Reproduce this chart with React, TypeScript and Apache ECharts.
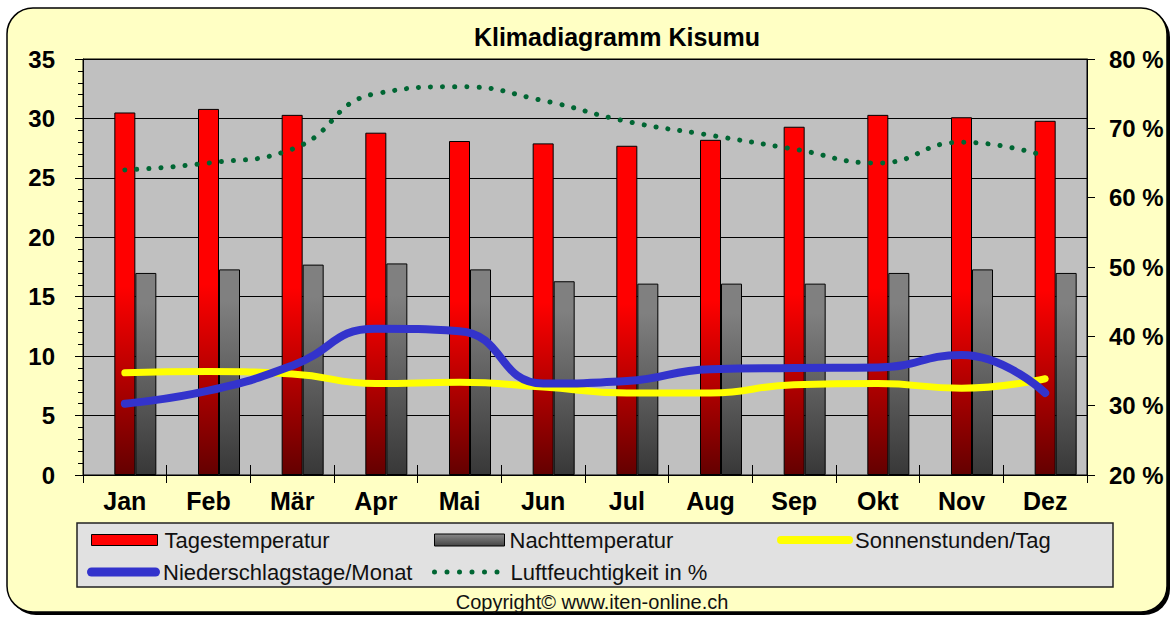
import React, { useEffect, useRef } from "react";
import * as echarts from "echarts";

const months = ["Jan", "Feb", "Mär", "Apr", "Mai", "Jun", "Jul", "Aug", "Sep", "Okt", "Nov", "Dez"];
const tagestemperatur = [30.5, 30.8, 30.3, 28.8, 28.1, 27.9, 27.7, 28.2, 29.3, 30.3, 30.1, 29.8];
const nachttemperatur = [17.0, 17.3, 17.7, 17.8, 17.3, 16.3, 16.1, 16.1, 16.1, 17.0, 17.3, 17.0];
const sonnenstunden = [8.6, 8.7, 8.5, 7.7, 7.8, 7.4, 6.9, 6.9, 7.6, 7.7, 7.3, 8.1];
const niederschlagstage = [6.0, 7.1, 9.2, 12.3, 12.1, 7.7, 7.9, 8.9, 9.0, 9.05, 10.1, 6.9];
const luftfeuchtigkeit = [64, 65, 67, 75, 76, 74, 71, 69, 67, 65, 68, 66];
const leftTicks = { min: 0, max: 35, interval: 5 };
const rightTicks = { min: 20, max: 80, interval: 10 };

const FONT = "'Liberation Sans', Arial, Helvetica, sans-serif";

function capsule(w: number, h: number) {
  const r = h / 2;
  return `path://M${r},0 L${w - r},0 A${r},${r} 0 0 1 ${w - r},${h} L${r},${h} A${r},${r} 0 0 1 ${r},0 Z`;
}
function dots(n: number, r: number, step: number) {
  let d = "path://";
  for (let i = 0; i < n; i++) {
    const cx = r + i * step;
    d += `M${cx - r},${r} A${r},${r} 0 1 0 ${cx + r},${r} A${r},${r} 0 1 0 ${cx - r},${r} Z `;
  }
  return d;
}

export default function App() {
  const ref = useRef<HTMLDivElement>(null);
  useEffect(() => {
    if (!ref.current) return;
    const chart = echarts.init(ref.current, undefined, { renderer: "svg" });
    const redGrad = new echarts.graphic.LinearGradient(0, 0, 0, 1, [
      { offset: 0, color: "#FF0000" },
      { offset: 0.48, color: "#FF0000" },
      { offset: 1, color: "#640000" },
    ]);
    const grayGrad = new echarts.graphic.LinearGradient(0, 0, 0, 1, [
      { offset: 0, color: "#808080" },
      { offset: 0.15, color: "#808080" },
      { offset: 1, color: "#383838" },
    ]);
    const legendText = { fontFamily: FONT, fontSize: 22, color: "#111", lineHeight: 22 };
    const legendBase = { orient: "horizontal", padding: 0, symbolKeepAspect: false, textStyle: legendText, selectedMode: false };
    const option: any = {
      animation: false,
      graphic: [
        { type: "rect", z: -20, shape: { x: 10, y: 11, width: 1160, height: 604, r: 26 }, style: { fill: "#000" } },
        { type: "rect", z: -19, shape: { x: 7, y: 8, width: 1160, height: 604, r: 26 }, style: { fill: "#FFFFC4", stroke: "#000", lineWidth: 1.5 } },
        { type: "rect", z: -18, shape: { x: 77, y: 523, width: 1036, height: 64 }, style: { fill: "#E1E1E1", stroke: "#222", lineWidth: 1.5 } },
      ],
      title: [
        { text: "Klimadiagramm Kisumu", left: 617, top: 24, textAlign: "center", padding: 0, textStyle: { fontFamily: FONT, fontSize: 25, fontWeight: "bold", color: "#000" } },
        { text: "Copyright© www.iten-online.ch", left: 592, top: 592, textAlign: "center", padding: 0, textStyle: { fontFamily: FONT, fontSize: 20, fontWeight: "normal", color: "#111" } },
      ],
      legend: [
        { ...legendBase, left: 91, top: 529, itemWidth: 66, itemHeight: 11, data: [{ name: "Tagestemperatur", icon: "rect" }], itemStyle: { color: "#FF0000", borderColor: "#000", borderWidth: 1 }, textStyle: { ...legendText, padding: [0, 0, 0, 2] } },
        { ...legendBase, left: 434, top: 529, itemWidth: 70, itemHeight: 12, data: [{ name: "Nachttemperatur", icon: "rect" }], itemStyle: { color: new echarts.graphic.LinearGradient(0, 0, 0, 1, [{ offset: 0, color: "#8a8a8a" }, { offset: 1, color: "#444" }]), borderColor: "#000", borderWidth: 1 } },
        { ...legendBase, left: 777, top: 529, itemWidth: 76, itemHeight: 8, data: [{ name: "Sonnenstunden/Tag", icon: capsule(76, 8) }], itemStyle: { color: "#FFFF00", borderWidth: 0 }, textStyle: { ...legendText, padding: [0, 0, 0, -3] } },
        { ...legendBase, left: 87, top: 561, itemWidth: 73, itemHeight: 9, data: [{ name: "Niederschlagstage/Monat", icon: capsule(73, 9) }], itemStyle: { color: "#3333CC", borderWidth: 0 }, textStyle: { ...legendText, padding: [0, 0, 0, -2] } },
        { ...legendBase, left: 432, top: 561, itemWidth: 67.5, itemHeight: 5, data: [{ name: "Luftfeuchtigkeit in %", icon: dots(6, 2.5, 12.5) }], itemStyle: { color: "#006633", borderWidth: 0 }, textStyle: { ...legendText, padding: [0, 0, 0, 6] } },
      ],
      grid: [
        { left: 83, right: 85, top: 59, bottom: 143, show: true, backgroundColor: "#C0C0C0", borderColor: "#000", borderWidth: 1, containLabel: false },
        { left: 83, right: 85, top: 465, height: 10, show: false, containLabel: false },
      ],
      xAxis: [
        {
          type: "category", data: months, gridIndex: 0, boundaryGap: true,
          axisLine: { show: true, lineStyle: { color: "#000", width: 1 } },
          axisTick: { show: true, inside: false, length: 8, lineStyle: { color: "#000" } },
          axisLabel: { fontFamily: FONT, fontSize: 25, fontWeight: "bold", color: "#000", margin: 13 },
          splitLine: { show: false },
        },
        {
          type: "category", data: months, gridIndex: 1, boundaryGap: true, position: "bottom",
          axisLine: { show: false },
          axisTick: { show: true, inside: true, length: 10, lineStyle: { color: "#000" } },
          axisLabel: { show: false },
          splitLine: { show: false },
        },
      ],
      yAxis: [
        {
          type: "value", gridIndex: 0, position: "left", min: leftTicks.min, max: leftTicks.max, interval: leftTicks.interval,
          axisLine: { show: true, lineStyle: { color: "#000" } },
          axisTick: { show: true, inside: false, length: 8, lineStyle: { color: "#000" } },
          minorTick: { show: true, splitNumber: 5, length: 5, lineStyle: { color: "#000" } },
          axisLabel: { fontFamily: FONT, fontSize: 24, fontWeight: "bold", color: "#000", margin: 28 },
          splitLine: { show: true, lineStyle: { color: "#000", width: 1 } },
        },
        {
          type: "value", gridIndex: 0, position: "right", min: rightTicks.min, max: rightTicks.max, interval: rightTicks.interval,
          axisLine: { show: true, lineStyle: { color: "#000" } },
          axisTick: { show: true, inside: false, length: 8, lineStyle: { color: "#000" } },
          axisLabel: { fontFamily: FONT, fontSize: 24, fontWeight: "bold", color: "#000", margin: 22, formatter: "{value} %" },
          splitLine: { show: false },
        },
        { type: "value", gridIndex: 1, show: false, min: 0, max: 1 },
      ],
      series: [
        { type: "bar", name: "spacer", data: months.map(() => "-"), barWidth: 21, barGap: "0%", silent: true },
        { type: "bar", name: "Tagestemperatur", data: tagestemperatur, barWidth: 21, barGap: "0%", itemStyle: { color: redGrad, borderColor: "#000", borderWidth: 1 } },
        { type: "bar", name: "Nachttemperatur", data: nachttemperatur, barWidth: 21, barGap: "0%", itemStyle: { color: grayGrad, borderColor: "#000", borderWidth: 1 } },
        { type: "line", name: "Sonnenstunden/Tag", data: sonnenstunden, smooth: true, symbol: "none", color: "#FFFF00", lineStyle: { width: 7, color: "#FFFF00", cap: "round" }, z: 3 },
        { type: "line", name: "Niederschlagstage/Monat", data: niederschlagstage, smooth: true, symbol: "none", color: "#3333CC", lineStyle: { width: 8, color: "#3333CC", cap: "round" }, z: 4 },
        { type: "line", name: "Luftfeuchtigkeit in %", yAxisIndex: 1, data: luftfeuchtigkeit, smooth: true, symbol: "none", color: "#006633", lineStyle: { width: 5, color: "#006633", type: [0.1, 12], cap: "round" }, z: 5 },
      ],
    };
    chart.setOption(option);
    return () => chart.dispose();
  }, []);
  return (
    <div style={{ position: "fixed", left: 0, top: 0, width: 1172, height: 618, background: "#fff" }}>
      <div ref={ref} style={{ width: 1172, height: 618 }} />
    </div>
  );
}
